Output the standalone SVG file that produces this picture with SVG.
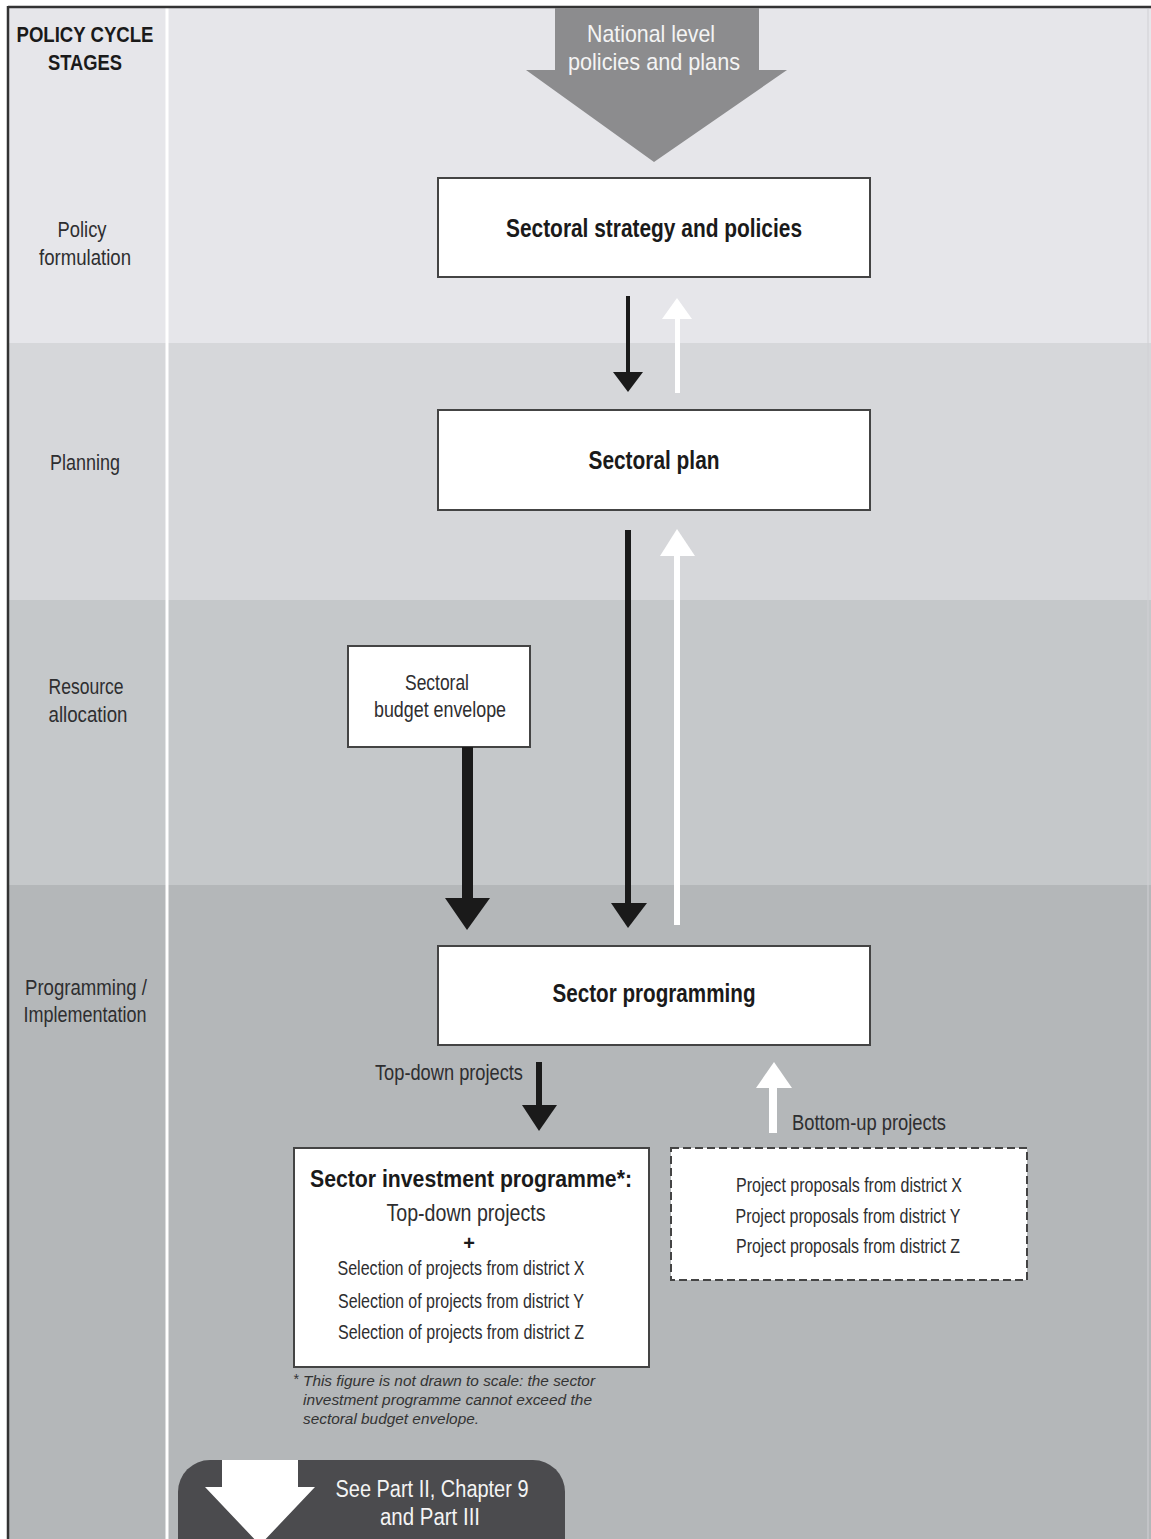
<svg xmlns="http://www.w3.org/2000/svg" width="1151" height="1539" viewBox="0 0 1151 1539">
<style>
.t{font-family:"Liberation Sans",Arial,sans-serif;fill:#2e2e30;text-anchor:middle}
.b{font-weight:bold;fill:#1a1a1a}
.w{fill:#f4f4f4}
.box{fill:#fff;stroke:#444;stroke-width:2}
.fn{font-family:"Liberation Sans",Arial,sans-serif;font-style:italic;fill:#333;font-size:14px}
</style>
<rect x="0" y="0" width="1151" height="1539" fill="#fff"/>
<g id="bands">
<rect x="8" y="8" width="1143" height="336" fill="#e6e6ea"/>
<rect x="8" y="343" width="1143" height="258" fill="#d6d7da"/>
<rect x="8" y="600" width="1143" height="286" fill="#c5c8ca"/>
<rect x="8" y="885" width="1143" height="654" fill="#b4b7b9"/>
<line x1="167" y1="8" x2="167" y2="1539" stroke="#fff" stroke-width="3"/>
<line x1="8" y1="7" x2="1151" y2="7" stroke="#333" stroke-width="2.5"/>
<line x1="8" y1="6" x2="8" y2="1539" stroke="#333" stroke-width="2.5"/>
<line x1="1148" y1="9" x2="1148" y2="1539" stroke="#d0d0d4" stroke-width="1"/>
</g>
<g id="stage-labels">
<text class="t b" x="85" y="42" font-size="22" textLength="137" lengthAdjust="spacingAndGlyphs">POLICY CYCLE</text>
<text class="t b" x="85" y="70" font-size="22" textLength="74" lengthAdjust="spacingAndGlyphs">STAGES</text>
<text class="t" x="82" y="237" font-size="22" textLength="49" lengthAdjust="spacingAndGlyphs">Policy</text>
<text class="t" x="85" y="265" font-size="22" textLength="92" lengthAdjust="spacingAndGlyphs">formulation</text>
<text class="t" x="85" y="470" font-size="22" textLength="70" lengthAdjust="spacingAndGlyphs">Planning</text>
<text class="t" x="86" y="694" font-size="22" textLength="75" lengthAdjust="spacingAndGlyphs">Resource</text>
<text class="t" x="88" y="722" font-size="22" textLength="79" lengthAdjust="spacingAndGlyphs">allocation</text>
<text class="t" x="86" y="995" font-size="22" textLength="122" lengthAdjust="spacingAndGlyphs">Programming /</text>
<text class="t" x="85" y="1022" font-size="22" textLength="123" lengthAdjust="spacingAndGlyphs">Implementation</text>
</g>
<g id="national">
<polygon points="555,8 759,8 759,70 787,70 654,162 526,70 555,70" fill="#8c8c8e"/>
<text class="t w" x="651" y="42" font-size="24" textLength="128" lengthAdjust="spacingAndGlyphs">National level</text>
<text class="t w" x="654" y="70" font-size="24" textLength="172" lengthAdjust="spacingAndGlyphs">policies and plans</text>
</g>
<g id="strategy">
<rect class="box" x="438" y="178" width="432" height="99"/>
<text class="t b" x="654" y="237" font-size="25" textLength="296" lengthAdjust="spacingAndGlyphs">Sectoral strategy and policies</text>
</g>
<g id="plan">
<rect class="box" x="438" y="410" width="432" height="100"/>
<text class="t b" x="654" y="469" font-size="25" textLength="131" lengthAdjust="spacingAndGlyphs">Sectoral plan</text>
</g>
<g id="budget">
<rect class="box" x="348" y="646" width="182" height="101"/>
<text class="t" x="437" y="690" font-size="22" textLength="64" lengthAdjust="spacingAndGlyphs">Sectoral</text>
<text class="t" x="440" y="717" font-size="22" textLength="132" lengthAdjust="spacingAndGlyphs">budget envelope</text>
</g>
<g id="programming">
<rect class="box" x="438" y="946" width="432" height="99"/>
<text class="t b" x="654" y="1002" font-size="25" textLength="203" lengthAdjust="spacingAndGlyphs">Sector programming</text>
</g>
<g id="investment">
<rect class="box" x="294" y="1148" width="355" height="219"/>
<text class="t b" x="471" y="1187" font-size="24" textLength="322" lengthAdjust="spacingAndGlyphs">Sector investment programme*:</text>
<text class="t" x="466" y="1221" font-size="24" textLength="159" lengthAdjust="spacingAndGlyphs">Top-down projects</text>
<text class="t b" x="469" y="1250" font-size="20">+</text>
<text class="t" x="461" y="1275" font-size="20" textLength="247" lengthAdjust="spacingAndGlyphs">Selection of projects from district X</text>
<text class="t" x="461" y="1308" font-size="20" textLength="246" lengthAdjust="spacingAndGlyphs">Selection of projects from district Y</text>
<text class="t" x="461" y="1339" font-size="20" textLength="246" lengthAdjust="spacingAndGlyphs">Selection of projects from district Z</text>
</g>
<g id="proposals">
<rect x="671" y="1148" width="356" height="132" fill="#fff" stroke="#444" stroke-width="2" stroke-dasharray="8,4"/>
<text class="t" x="849" y="1192" font-size="20" textLength="226" lengthAdjust="spacingAndGlyphs">Project proposals from district X</text>
<text class="t" x="848" y="1223" font-size="20" textLength="225" lengthAdjust="spacingAndGlyphs">Project proposals from district Y</text>
<text class="t" x="848" y="1253" font-size="20" textLength="224" lengthAdjust="spacingAndGlyphs">Project proposals from district Z</text>
</g>
<g id="footnote">
<text class="fn" x="293" y="1384" font-size="11">*</text>
<text class="fn" x="303" y="1386" textLength="292" lengthAdjust="spacingAndGlyphs">This figure is not drawn to scale: the sector</text>
<text class="fn" x="303" y="1405" textLength="289" lengthAdjust="spacingAndGlyphs">investment programme cannot exceed the</text>
<text class="fn" x="303" y="1424" textLength="176" lengthAdjust="spacingAndGlyphs">sectoral budget envelope.</text>
</g>
<g id="see-part">
<rect x="178" y="1460" width="387" height="120" rx="32" fill="#4b4b4e"/>
<polygon points="222,1460 298,1460 298,1487 315,1487 260,1545 205,1487 222,1487" fill="#fff"/>
<text class="t w" x="432" y="1497" font-size="23" textLength="193" lengthAdjust="spacingAndGlyphs">See Part II, Chapter 9</text>
<text class="t w" x="430" y="1525" font-size="23" textLength="100" lengthAdjust="spacingAndGlyphs">and Part III</text>
</g>
<g id="connectors">
<rect x="626" y="296" width="4" height="78" fill="#1a1a1a"/>
<polygon points="613,372 643,372 628,392" fill="#1a1a1a"/>
<rect x="675" y="317" width="5" height="76" fill="#fff"/>
<polygon points="662,319 692,319 677,298" fill="#fff"/>
<rect x="625" y="530" width="6" height="375" fill="#1a1a1a"/>
<polygon points="611,903 647,903 628,928" fill="#1a1a1a"/>
<rect x="674" y="554" width="6" height="371" fill="#fff"/>
<polygon points="660,556 695,556 677,529" fill="#fff"/>
<rect x="462" y="747" width="11" height="153" fill="#1a1a1a"/>
<polygon points="445,898 490,898 467,930" fill="#1a1a1a"/>
<rect x="536" y="1062" width="6" height="45" fill="#1a1a1a"/>
<polygon points="522,1105 557,1105 539,1131" fill="#1a1a1a"/>
<text class="t" x="449" y="1080" font-size="22" textLength="148" lengthAdjust="spacingAndGlyphs">Top-down projects</text>
<rect x="769" y="1085" width="8" height="48" fill="#fff"/>
<polygon points="756,1088 792,1088 774,1062" fill="#fff"/>
<text class="t" x="869" y="1130" font-size="22" textLength="154" lengthAdjust="spacingAndGlyphs">Bottom-up projects</text>
</g>
</svg>
